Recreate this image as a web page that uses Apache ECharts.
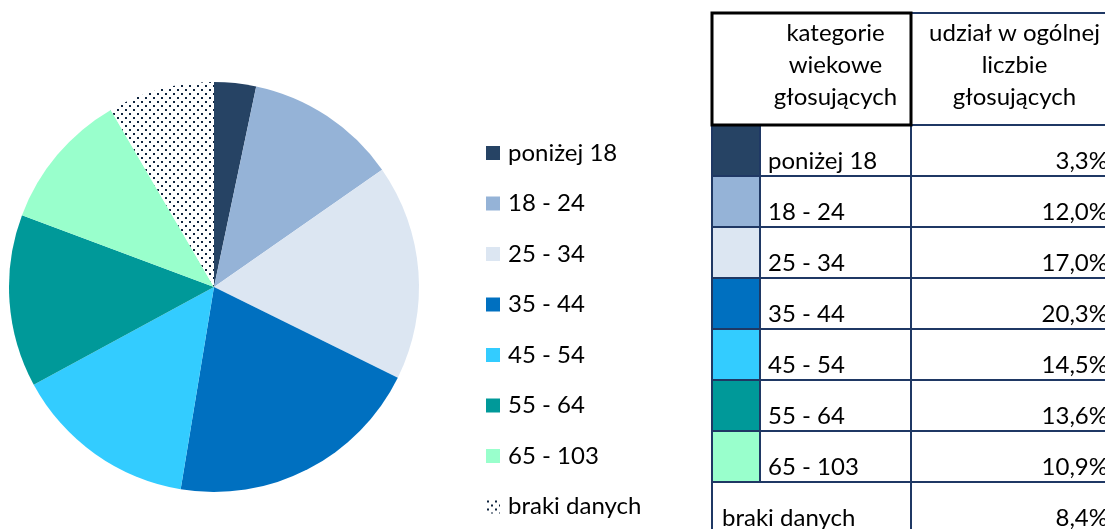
<!DOCTYPE html>
<html>
<head>
<meta charset="utf-8">
<script src="https://cdn.jsdelivr.net/npm/echarts@6/dist/echarts.min.js"></script>
<style>
  html, body { margin: 0; padding: 0; background: #fff; }
  #box1 { width: 1105px; height: 529px; }
</style>
</head>
<body>
<div id="box1"></div>
<script>
// kategorie wiekowe i udzialy (%)
let categories = ['poniżej 18', '18 - 24', '25 - 34', '35 - 44', '45 - 54', '55 - 64', '65 - 103', 'braki danych'];
let shares = [3.3, 12.0, 17.0, 20.3, 14.5, 13.6, 10.9, 8.4];
let colors = ['#264364', '#95B3D7', '#DCE6F2', '#0070C0', '#33CCFF', '#009999', '#99FFCC'];
let headerCol1 = ['kategorie', 'wiekowe', 'głosujących'];
let headerCol2 = ['udział w ogólnej', 'liczbie', 'głosujących'];

// kropkowany wzor dla "braki danych"
let pat = document.createElement('canvas');
pat.width = 8;
pat.height = 8;
let pctx = pat.getContext('2d');
pctx.fillStyle = '#fff';
pctx.fillRect(0, 0, 8, 8);
pctx.fillStyle = '#0F243E';
pctx.fillRect(1, 1, 2, 2);
pctx.fillRect(5, 5, 2, 2);
let dotted = { image: pat, repeat: 'repeat' };

let font = '"Lato", "Open Sans", sans-serif';
let navy = '#1F3864';

let pieData = categories.map(function (c, i) {
    return {
        name: c,
        value: shares[i],
        itemStyle: { color: i < colors.length ? colors[i] : dotted }
    };
});

// tabela po prawej
let tx = 712, tSw = 760, tMid = 911, tRight = 1118;
let hTop = 13, hBot = 125, rowH = 51;
let g = [];
function line(x1, y1, x2, y2, c, w) {
    g.push({ type: 'line', shape: { x1: x1, y1: y1, x2: x2, y2: y2 }, style: { stroke: c, lineWidth: w }, z: 10 });
}
function text(s, x, y, align) {
    g.push({ type: 'text', style: { text: s, x: x, y: y, fill: '#000', font: '24px ' + font, align: align, verticalAlign: 'middle' }, z: 11 });
}
headerCol1.forEach(function (s, i) { text(s, (tSw + tMid) / 2, 33 + i * 32, 'center'); });
headerCol2.forEach(function (s, i) { text(s, (tMid + tRight) / 2, 33 + i * 32, 'center'); });
categories.forEach(function (c, i) {
    let y0 = hBot + i * rowH;
    if (i < colors.length) {
        g.push({ type: 'rect', shape: { x: tx, y: y0, width: tSw - tx, height: rowH }, style: { fill: colors[i] }, z: 9 });
        text(c, 768, y0 + rowH - 15, 'left');
    } else {
        text(c, 722, y0 + rowH - 15, 'left');
    }
    text(shares[i].toFixed(1).replace('.', ',') + '%', 1108, y0 + rowH - 15, 'right');
    line(tx, y0 + rowH, tRight, y0 + rowH, navy, 2);
});
let tBot = hBot + categories.length * rowH;
line(tSw, hBot, tSw, hBot + colors.length * rowH, navy, 2);
line(tx, hBot, tx, tBot, navy, 2);
line(tMid, hBot, tMid, tBot, navy, 2);
line(tMid, hTop, tRight, hTop, navy, 2);
line(tMid, hBot, tRight, hBot, navy, 2);
g.push({ type: 'rect', shape: { x: tx, y: hTop, width: tMid - tx, height: hBot - hTop }, style: { fill: 'none', stroke: '#000', lineWidth: 3 }, z: 12 });

let myChart1 = echarts.init(document.querySelector('#box1'));
let option1 = {
    animation: false,
    legend: {
        orient: 'vertical',
        left: 486,
        top: 139,
        padding: 0,
        itemWidth: 14,
        itemHeight: 14,
        itemGap: 22.5,
        icon: 'rect',
        textStyle: { fontFamily: font, fontSize: 24, color: '#000', lineHeight: 28, padding: [0, 0, 0, 3] },
        data: categories
    },
    series: [
        {
            name: 'udział',
            type: 'pie',
            center: [214, 287],
            radius: 205,
            startAngle: 90,
            clockwise: true,
            label: { show: false },
            labelLine: { show: false },
            emphasis: { disabled: true },
            data: pieData
        }
    ],
    graphic: g
};
myChart1.setOption(option1);
</script>
</body>
</html>
